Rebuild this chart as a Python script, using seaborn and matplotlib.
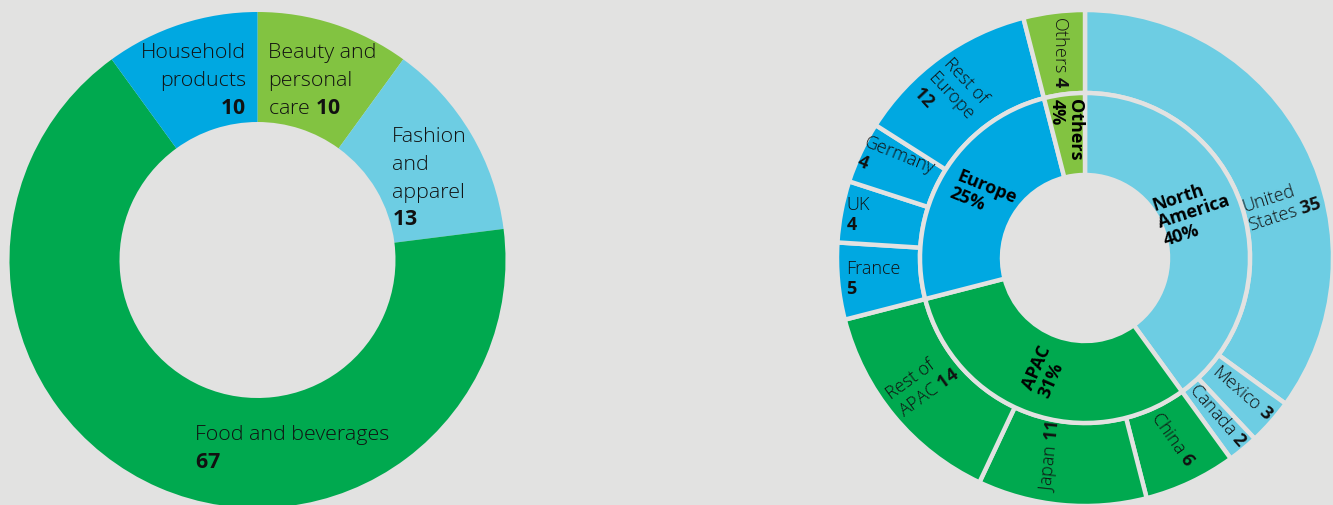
import matplotlib
matplotlib.use("Agg")
import matplotlib.pyplot as plt
import seaborn as sns

# ---------------- data ----------------
sector_names = ["Beauty and personal care", "Fashion and apparel",
                "Food and beverages", "Household products"]
sector_values = [10, 13, 67, 10]
sector_labels = ["Beauty and\npersonal\ncare $\\mathbf{10}$",
                 "Fashion\nand\napparel\n$\\mathbf{13}$",
                 "Food and beverages\n$\\mathbf{67}$",
                 "Household\nproducts\n$\\mathbf{10}$"]

region_names = ["North America", "APAC", "Europe", "Others"]
region_values = [40, 31, 25, 4]
region_labels = ["North\nAmerica\n40%", "APAC\n31%", "Europe\n25%", "Others\n4%"]

country_names = ["United States", "Mexico", "Canada", "China", "Japan",
                 "Rest of APAC", "France", "UK", "Germany", "Rest of Europe", "Others"]
country_values = [35, 3, 2, 6, 11, 14, 5, 4, 4, 12, 4]
country_region = ["North America"] * 3 + ["APAC"] * 3 + ["Europe"] * 4 + ["Others"]
country_labels = ["United\nStates $\\mathbf{35}$", "Mexico $\\mathbf{3}$",
                  "Canada $\\mathbf{2}$", "China $\\mathbf{6}$", "Japan $\\mathbf{11}$",
                  "Rest of\nAPAC $\\mathbf{14}$", "France\n$\\mathbf{5}$",
                  "UK\n$\\mathbf{4}$", "Germany\n$\\mathbf{4}$",
                  "Rest of\nEurope\n$\\mathbf{12}$", "Others $\\mathbf{4}$"]

# ---------------- style ----------------
BG = "#e2e2e1"
DKGREEN = "#00a94f"
BLUE = "#00a8e1"
LIME = "#82c341"
LTBLUE = "#6dcde3"
sector_colors = [LIME, LTBLUE, DKGREEN, BLUE]
region_colors = {"North America": LTBLUE, "APAC": DKGREEN, "Europe": BLUE, "Others": LIME}

sns.set_theme(style="white")
plt.rcParams["font.family"] = ["Open Sans", "DejaVu Sans"]
plt.rcParams["mathtext.fontset"] = "custom"
plt.rcParams["mathtext.bf"] = "Open Sans:bold"
plt.rcParams["mathtext.rm"] = "Open Sans"

W, H = 1333, 506
fig = plt.figure(figsize=(W / 100, H / 100), dpi=100, facecolor=BG)
ax = fig.add_axes([0, 0, 1, 1])
ax.set_facecolor(BG)

def Y(y):
    return H - y

TXT = "#111111"

# ---------------- left donut ----------------
lc = (257.5, Y(261))
R1 = 248
ax.pie(sector_values, colors=sector_colors, startangle=90, counterclock=False,
       radius=R1, center=lc, frame=True,
       wedgeprops=dict(width=R1 - 138, linewidth=0))

fs_l = 15.4
left_pos = [  # x, y(top), ha
    (268, 43, "left"),
    (392, 127, "left"),
    (195, 425, "left"),
    (246, 43, "right"),
]
for lab, (x, y, ha) in zip(sector_labels, left_pos):
    ax.text(x, Y(y), lab, ha=ha, va="top", multialignment=ha, fontsize=fs_l,
            fontweight="light", color=TXT, linespacing=1.52)

# ---------------- right sunburst ----------------
rc = (1085, Y(259))
R_out, R_mid, R_in = 248, 165, 83
sep = dict(edgecolor=BG, linewidth=3.2)
ax.pie(country_values, colors=[region_colors[r] for r in country_region],
       startangle=90, counterclock=False, radius=R_out, center=rc, frame=True,
       wedgeprops=dict(width=R_out - R_mid, **sep))
ax.pie(region_values, colors=[region_colors[r] for r in region_names],
       startangle=90, counterclock=False, radius=R_mid, center=rc, frame=True,
       wedgeprops=dict(width=R_mid - R_in, **sep))

fs_r = 13
country_pos = [  # x, y(center), rotation, ha
    (1282, 205, 18, "center"),
    (1242, 393, -41, "center"),
    (1218, 416, -49, "center"),
    (1173, 440, -55, "center"),
    (1050, 457, 84, "center"),
    (923, 384, 36, "center"),
    (846, 279, 0, "left"),
    (846, 215, 0, "left"),
    (896, 165, -22, "center"),
    (951, 96, -47, "center"),
    (1060, 52, -90, "center"),
]
for lab, (x, y, rot, ha) in zip(country_labels, country_pos):
    ax.text(x, Y(y), lab, ha=ha, va="center", rotation=rot, rotation_mode="anchor",
            multialignment="left", fontsize=fs_r, fontweight="light", color=TXT,
            linespacing=1.2)

region_pos = [
    (1194, 212, 18),
    (1045, 372, 66),
    (983, 196, -22),
    (1066, 130, -90),
]
for lab, (x, y, rot) in zip(region_labels, region_pos):
    ax.text(x, Y(y), lab, ha="center", va="center", rotation=rot, rotation_mode="anchor",
            multialignment="left", fontsize=fs_r, fontweight="bold", color="black",
            linespacing=1.02)

ax.set_xlim(0, W)
ax.set_ylim(0, H)
ax.set_aspect("equal")
ax.axis("off")
fig.savefig("out.png", dpi=100, facecolor=BG)
